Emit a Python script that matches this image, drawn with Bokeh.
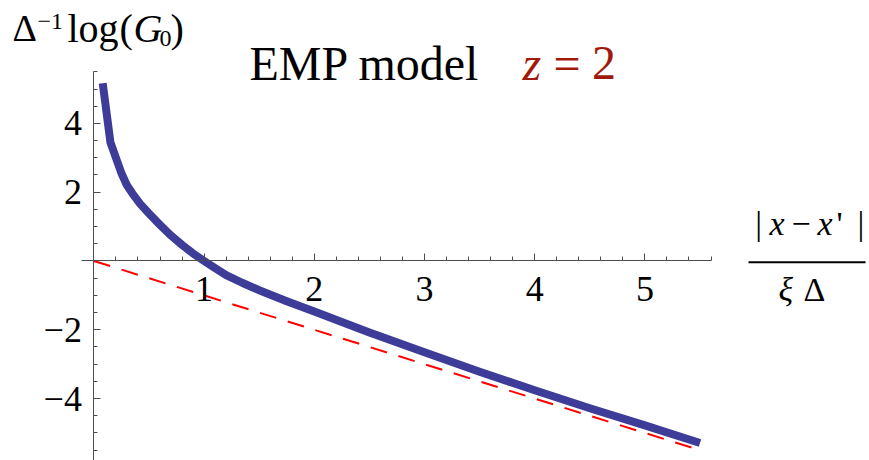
from bokeh.plotting import figure
from bokeh.models import LinearAxis, FixedTicker, Range1d
from bokeh.core.properties import value
from bokeh.embed import file_html
from bokeh.resources import INLINE

# Sampled curve of the EMP model for z = 2
dist = [0.08, 0.15, 0.25, 0.3, 0.35, 0.42, 0.5, 0.6, 0.7, 0.8, 0.9, 1.0, 1.1, 1.2,
        1.35, 1.5, 1.75, 2.0, 2.5, 3.0, 3.5, 4.0, 4.5, 5.0, 5.5]
log_g0 = [5.17, 3.45, 2.55, 2.2, 1.96, 1.66, 1.38, 1.05, 0.74, 0.47, 0.22, 0.0, -0.21, -0.41,
          -0.64, -0.85, -1.17, -1.47, -2.08, -2.65, -3.22, -3.76, -4.28, -4.78, -5.29]

# Asymptote -x
asym_x = [0.0, 5.5]
asym_y = [0.0, -5.5]

x_ticks = [1, 2, 3, 4, 5]
x_minor = [round(0.2 * i, 1) for i in range(1, 29)]
y_ticks = [-4, -2, 2, 4]
y_minor = [round(-5.5 + 0.5 * i, 1) for i in range(23)]
y_tick_labels = {-4: "\u22124", -2: "\u22122", 2: "2", 4: "4"}

SERIF = "Liberation Serif"
AXIS_GREY = "#4d4d4d"
TITLE_RED = "#a0190b"

p = figure(width=869, height=460, output_backend="svg", toolbar_location=None,
           x_axis_location=None, y_axis_location=None,
           x_range=Range1d(-0.8475, 7.038), y_range=Range1d(-5.80, 7.573),
           min_border=0, outline_line_color=None)
p.grid.visible = False

xaxis = LinearAxis(fixed_location=0, bounds=(-0.11, 5.6),
                   ticker=FixedTicker(ticks=x_ticks, minor_ticks=x_minor))
yaxis = LinearAxis(fixed_location=0, bounds=(-5.8, 5.5),
                   ticker=FixedTicker(ticks=y_ticks, minor_ticks=y_minor),
                   major_label_overrides=y_tick_labels)
for ax in (xaxis, yaxis):
    ax.axis_line_color = AXIS_GREY
    ax.major_tick_line_color = AXIS_GREY
    ax.minor_tick_line_color = AXIS_GREY
    ax.major_tick_in = 7
    ax.major_tick_out = 0
    ax.minor_tick_in = 4
    ax.minor_tick_out = 0
    ax.major_label_text_font = SERIF
    ax.major_label_text_font_size = "36px"
    ax.major_label_text_color = "black"
xaxis.major_label_standoff = 16
yaxis.major_label_standoff = 12
p.add_layout(xaxis, "below")
p.add_layout(yaxis, "left")

p.line(asym_x, asym_y, line_color="#ff0000", line_width=2, line_dash="17 12")
p.line(dist, log_g0, line_color="#3d3d99", line_width=8, line_join="round")

def put(x, y, txt, size, style="normal", color="black"):
    p.text(x=[x], y=[y], text=[txt], text_font=value(SERIF), text_font_size=size,
           text_font_style=style, text_color=color, text_baseline="alphabetic",
           text_align="left")

# Title
put(1.412, 5.75, "EMP model", "48px")
put(3.889, 5.75, "z", "48px", "italic", TITLE_RED)
put(4.171, 5.75, "=", "48px", color=TITLE_RED)
put(4.52, 5.75, "2", "48px", color=TITLE_RED)

# Vertical axis label
put(-0.739, 6.77, "\u0394", "38px")
put(-0.512, 6.95, "\u22121", "24px")
put(-0.240, 6.77, "log", "40px")
put(0.232, 6.77, "(", "40px")
put(0.359, 6.77, "G", "40px", "italic")
put(0.595, 6.465, "0", "24px")
put(0.695, 6.77, ")", "40px")

# Horizontal axis label as a fraction
put(6.002, 1.08, "|", "34px")
put(6.13, 1.08, "x", "34px", "italic")
put(6.33, 1.08, "\u2212", "34px")
put(6.566, 1.08, "x", "34px", "italic")
put(6.738, 1.08, "'", "34px")
put(6.929, 1.08, "|", "34px")
p.segment(x0=[5.94], y0=[-0.035], x1=[7.002], y1=[-0.035], line_color="black", line_width=2)
put(6.212, -0.843, "\u03be", "34px", "italic")
put(6.44, -0.843, "\u0394", "34px")

open("out.html", "w").write(file_html(p, INLINE))
